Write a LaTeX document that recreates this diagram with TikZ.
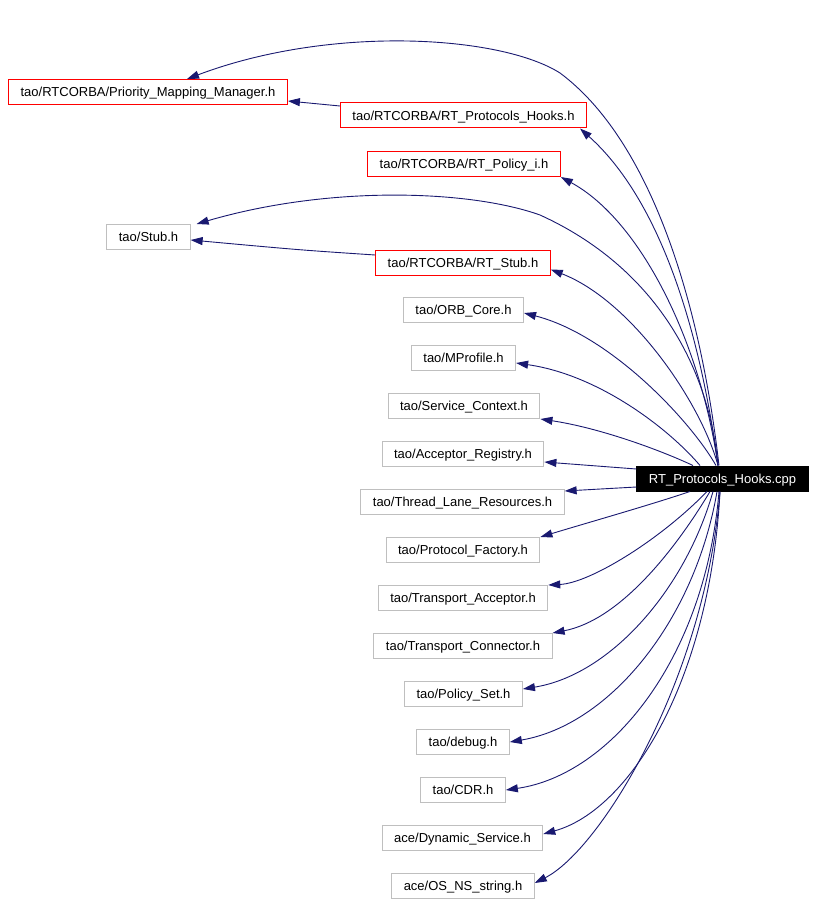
\documentclass[tikz,border=0pt]{standalone}
\usepackage{fontspec}
\setmainfont{Liberation Sans}
\usetikzlibrary{arrows.meta}
\definecolor{edgeblue}{HTML}{191970}
\definecolor{boxgray}{HTML}{BFBFBF}
\begin{document}
\begin{tikzpicture}[x=1pt, y=-1pt,
    file/.style={draw=boxgray, line width=1pt, inner xsep=12pt, inner ysep=0pt,
        text height=9.5pt, text depth=0pt,
        minimum height=25pt, font=\fontsize{13}{15}\selectfont},
    redfile/.style={file, draw=red},
    dep/.style={draw=edgeblue, line width=0.9pt, -{Triangle[length=12pt,width=8pt]}}]
    \useasboundingbox (0,0) rectangle (816,904);

    % the file itself
    \node[file, draw=black, fill=black, text=white] (cpp) at (722.5,478.5) {RT\_Protocols\_Hooks.cpp};

    % headers
    \node[redfile] (pmm) at (148,92) {tao/RTCORBA/Priority\_Mapping\_Manager.h};
    \node[redfile] (rph) at (463.5,115.5) {tao/RTCORBA/RT\_Protocols\_Hooks.h};
    \node[redfile] (rpi) at (464,164) {tao/RTCORBA/RT\_Policy\_i.h};
    \node[file] (stub) at (148.5,237) {tao/Stub.h};
    \node[redfile] (rtstub) at (463,262.5) {tao/RTCORBA/RT\_Stub.h};
    \node[file] (orb) at (463.5,310) {tao/ORB\_Core.h};
    \node[file] (mprof) at (463.5,358) {tao/MProfile.h};
    \node[file] (sctx) at (464,406) {tao/Service\_Context.h};
    \node[file] (areg) at (463,454) {tao/Acceptor\_Registry.h};
    \node[file] (tlr) at (462.5,502) {tao/Thread\_Lane\_Resources.h};
    \node[file] (pfac) at (463,550) {tao/Protocol\_Factory.h};
    \node[file] (tacc) at (463,598) {tao/Transport\_Acceptor.h};
    \node[file] (tcon) at (463,646) {tao/Transport\_Connector.h};
    \node[file] (pset) at (463.5,694) {tao/Policy\_Set.h};
    \node[file] (dbg) at (463,742) {tao/debug.h};
    \node[file] (cdr) at (463,790) {tao/CDR.h};
    \node[file] (dsvc) at (462.5,838) {ace/Dynamic\_Service.h};
    \node[file] (osns) at (463,886) {ace/OS\_NS\_string.h};

    % upper fan
    \draw[dep] ([xshift=-3.5pt]cpp.north) .. controls (700,300) and (650,140) .. (560,73)
        .. controls (500,35) and (330,25) .. ([xshift=39pt]pmm.north);
    \draw[dep] ([yshift=9.5pt]rph.west) -- ([yshift=-9pt]pmm.east);
    \draw[dep] ([xshift=-4.5pt]cpp.north) .. controls (700,330) and (660,200) .. ([xshift=-7pt]rph.south east);
    \draw[dep] ([xshift=-4.5pt]cpp.north) .. controls (700,340) and (640,220) .. (rpi.south east);
    \draw[dep] ([xshift=-4.5pt]cpp.north) .. controls (708,360) and (650,265) .. (540,215)
        .. controls (470,190) and (330,185) .. ([xshift=6pt]stub.north east);
    \draw[dep] ([yshift=7.5pt]rtstub.west) .. controls (300,250) .. ([yshift=-3pt]stub.east);
    \draw[dep] ([xshift=-4.5pt]cpp.north) .. controls (700,400) and (630,300) .. ([yshift=-7pt]rtstub.east);
    \draw[dep] ([xshift=-6.5pt]cpp.north) .. controls (690,420) and (610,335) .. ([yshift=-3pt]orb.east);
    \draw[dep] ([xshift=-22.5pt]cpp.north) .. controls (670,430) and (600,375) .. ([yshift=-5pt]mprof.east);
    \draw[dep] ([xshift=-29.5pt]cpp.north) .. controls (660,450) and (600,428) .. (sctx.south east);
    \draw[dep] ([yshift=9.5pt]cpp.west) -- ([yshift=-8pt]areg.east);

    % lower fan
    \draw[dep] ([yshift=-8.5pt]cpp.west) -- ([yshift=-2pt]tlr.north east);
    \draw[dep] ([xshift=-32.5pt]cpp.south) .. controls (650,505) and (590,522) .. (pfac.north east);
    \draw[dep] ([xshift=-15.5pt]cpp.south) .. controls (660,540) and (590,583) .. (tacc.north east);
    \draw[dep] ([xshift=-12.5pt]cpp.south) .. controls (675,550) and (620,620) .. (tcon.north east);
    \draw[dep] ([xshift=-9.5pt]cpp.south) .. controls (685,590) and (610,675) .. ([yshift=5pt]pset.east);
    \draw[dep] ([xshift=-5.5pt]cpp.south) .. controls (695,620) and (610,725) .. (dbg.east);
    \draw[dep] ([xshift=-3.5pt]cpp.south) .. controls (705,660) and (610,775) .. (cdr.east);
    \draw[dep] ([xshift=-2.5pt]cpp.south) .. controls (710,680) and (630,810) .. ([yshift=4pt]dsvc.east);
    \draw[dep] ([xshift=-2.5pt]cpp.south) .. controls (705,680) and (600,850) .. ([yshift=3pt]osns.east);
\end{tikzpicture}
\end{document}
